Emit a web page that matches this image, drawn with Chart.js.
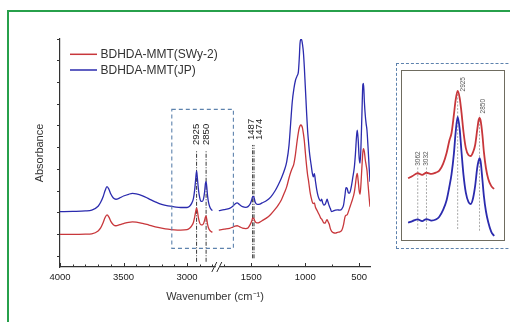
<!DOCTYPE html>
<html>
<head>
<meta charset="utf-8">
<script src="https://cdn.jsdelivr.net/npm/chart.js@4.4.1/dist/chart.umd.min.js"></script>
<style>
  html, body { margin: 0; padding: 0; background: #fff; overflow: hidden; }
  #frame { position: absolute; left: 7px; top: 10px; width: 600px; height: 400px; border: 2px solid #27a04b; }
  #main { position: absolute; left: 0; top: 0; }
  #insetOuter { position: absolute; left: 396px; top: 63px; width: 200px; height: 184px; border: 1.2px dashed #5d82ad; }
  #insetBox { position: absolute; left: 401px; top: 70px; width: 102px; height: 169px; border: 1.5px solid #6f6c60; background: #fff; }
  #inset { display: block; }
</style>
</head>
<body>
<div id="frame"></div>
<canvas id="main" width="510" height="322"></canvas>
<div id="insetOuter"></div>
<div id="insetBox"><canvas id="inset" width="102" height="169"></canvas></div>
<script>
// high wavenumber part (4000 - 2800 cm-1)
const waveHigh = [4000, 3900, 3800, 3750, 3700, 3680, 3660, 3645, 3630, 3615,
  3600, 3580, 3560, 3530, 3500, 3460, 3430, 3400, 3350, 3300,
  3250, 3200, 3150, 3100, 3050, 3000, 2980, 2965, 2950, 2940,
  2932, 2925, 2918, 2910, 2900, 2890, 2880, 2870, 2862, 2855,
  2850, 2845, 2838, 2830, 2820, 2810, 2800];
const swyHigh = [1.50, 1.50, 1.51, 1.53, 1.66, 1.80, 2.05, 2.28, 2.40, 2.30,
  2.10, 1.95, 1.90, 1.95, 2.00, 2.06, 2.08, 2.07, 2.01, 1.93,
  1.85, 1.79, 1.74, 1.71, 1.70, 1.72, 1.78, 1.88, 2.05, 2.30,
  2.55, 2.72, 2.55, 2.25, 2.02, 1.94, 1.94, 2.00, 2.15, 2.30,
  2.35, 2.20, 1.95, 1.78, 1.68, 1.63, 1.60];
const jpHigh = [2.55, 2.56, 2.58, 2.62, 2.80, 2.98, 3.25, 3.52, 3.70, 3.58,
  3.36, 3.18, 3.12, 3.18, 3.27, 3.35, 3.39, 3.37, 3.28, 3.14,
  3.00, 2.88, 2.81, 2.77, 2.74, 2.74, 2.80, 2.92, 3.15, 3.55,
  4.05, 4.42, 4.05, 3.55, 3.18, 3.02, 3.02, 3.15, 3.45, 3.85,
  3.93, 3.70, 3.25, 2.95, 2.75, 2.65, 2.60];

// low wavenumber part (1800 - 400 cm-1)
const waveLow = [1800, 1750, 1700, 1670, 1650, 1630, 1610, 1580, 1550, 1530,
  1510, 1495, 1487, 1480, 1474, 1465, 1455, 1440, 1420, 1400,
  1360, 1320, 1280, 1250, 1220, 1190, 1171, 1150, 1135, 1120,
  1105, 1090, 1075, 1063, 1055, 1048, 1040, 1032, 1025, 1017,
  1008, 1000, 993, 986, 978, 970, 962, 955, 945, 935,
  925, 915, 905, 893, 880, 865, 855, 847, 838, 828,
  816, 806, 797, 788, 778, 768, 755, 740, 720, 700,
  680, 660, 645, 632, 622, 612, 600, 590, 575, 560,
  545, 535, 525, 518, 510, 500, 492, 484, 475, 466,
  460, 452, 444, 436, 428, 418, 408, 400];
const swyLow = [1.70, 1.74, 1.78, 1.84, 1.88, 1.90, 1.86, 1.79, 1.77, 1.80,
  1.95, 2.12, 2.24, 2.25, 2.22, 2.10, 2.05, 2.03, 2.07, 2.13,
  2.25, 2.42, 2.65, 2.85, 3.10, 3.45, 3.70, 4.10, 4.35, 4.55,
  4.75, 5.20, 5.80, 6.20, 6.40, 6.50, 6.54, 6.50, 6.40, 6.15,
  5.80, 5.35, 4.95, 4.60, 4.25, 4.00, 3.70, 3.45, 3.20, 3.00,
  2.92, 2.95, 2.75, 2.63, 2.50, 2.35, 2.24, 2.20, 2.12, 2.03,
  2.02, 2.12, 2.18, 2.08, 1.98, 1.78, 1.64, 1.58, 1.56, 1.60,
  1.62, 1.70, 1.95, 2.30, 2.38, 2.40, 2.55, 2.70, 2.92, 3.15,
  3.45, 3.80, 4.20, 4.31, 4.00, 3.50, 3.35, 3.80, 4.60, 5.30,
  5.45, 5.30, 4.95, 4.70, 4.45, 3.80, 3.20, 2.78];
const jpLow = [2.60, 2.64, 2.70, 2.80, 2.90, 2.95, 2.88, 2.78, 2.75, 2.78,
  2.90, 3.10, 3.24, 3.25, 3.20, 3.02, 2.92, 2.88, 2.90, 2.95,
  3.05, 3.22, 3.50, 3.78, 4.10, 4.50, 4.85, 5.60, 6.60, 7.60,
  8.20, 8.60, 8.80, 9.00, 9.60, 10.30, 10.49, 10.45, 10.25, 9.90,
  9.20, 8.40, 7.70, 7.00, 6.30, 5.80, 5.35, 5.05, 4.70, 4.35,
  4.15, 4.30, 3.95, 3.55, 3.25, 3.08, 3.05, 3.12, 2.95, 2.85,
  2.88, 3.00, 3.12, 2.98, 2.82, 2.70, 2.55, 2.58, 2.62, 2.63,
  2.62, 2.68, 2.85, 3.30, 3.65, 3.62, 3.42, 3.40, 3.65, 4.10,
  4.60, 5.20, 6.00, 6.30, 5.90, 5.00, 4.78, 5.50, 7.00, 8.40,
  8.46, 7.60, 7.00, 6.60, 6.30, 5.50, 4.60, 3.93];

const seriesNames = ['BDHDA-MMT(SWy-2)', 'BDHDA-MMT(JP)'];
const seriesColors = ['#c8373b', '#2b2bae'];

const majorTicks = [4000, 3500, 3000, 1500, 1000, 500];
const minorTicks = [3900, 3800, 3700, 3600, 3400, 3300, 3200, 3100, 2900, 2800, 1750, 1250, 750];
const yTicks = [0.5, 1.5, 2.5, 3.5, 4.5, 5.5, 6.5, 7.5, 8.5, 9.5, 10.5];

// marked bands (dash-dot lines) in the main plot
const bandWaves = [2925, 2850, 1487, 1474];
const bandTop = [5.39, 5.39, 5.62, 5.62];
const bandBottom = [0.24, 0.24, 0.40, 0.40];

// dashed zoom region: wavenumber from, to, absorbance low, high
const zoomRegion = [3120, 1665, 0.86, 7.26];

// inset: zoom on 3100 - 2800 cm-1
const insetWave = [3095, 3080, 3062, 3047, 3032, 3015, 3000, 2988, 2975, 2963,
  2953, 2946, 2938, 2932, 2925, 2918, 2912, 2905, 2897, 2888,
  2880, 2872, 2865, 2858, 2853, 2850, 2846, 2840, 2835, 2828,
  2820, 2810, 2800];
const insetSwy = [3.65, 3.79, 3.95, 3.85, 3.98, 3.91, 3.99, 4.10, 4.50, 5.15,
  5.92, 6.33, 7.40, 8.28, 8.82, 8.40, 7.57, 6.39, 5.44, 5.03,
  4.97, 5.21, 5.62, 6.51, 7.10, 7.22, 7.04, 6.21, 5.21, 4.26,
  3.61, 3.20, 3.02];
const insetJp = [1.02, 1.12, 1.22, 1.12, 1.24, 1.15, 1.21, 1.38, 1.78, 2.35,
  3.20, 3.90, 5.10, 6.35, 7.28, 6.55, 5.25, 3.85, 2.80, 2.25,
  2.13, 2.49, 3.20, 4.26, 4.70, 4.85, 4.62, 3.55, 2.60, 1.70,
  1.05, 0.50, 0.24];
const insetBands = [3062, 3032, 2925, 2850];
const insetBandTop = [4.3, 4.3, 8.7, 7.4];
const insetBandBottom = [0.65, 0.65, 0.65, 0.55];

const FONT = '"Liberation Sans", Arial, sans-serif';
Chart.defaults.font.family = FONT;

// broken wavenumber axis: 4000-2750 full scale, 1800-400 compressed
const BREAK_HI = 2750, BREAK_LO = 1800, LOW_FACTOR = 0.85;
function pos(w) {
  return w >= BREAK_HI ? 4000 - w : (4000 - BREAK_HI) + (BREAK_LO - w) * LOW_FACTOR;
}

function spectrum(high, low) {
  const pts = waveHigh.map((w, i) => ({x: pos(w), y: high[i]}));
  pts.push({x: pos(BREAK_HI), y: null});
  waveLow.forEach((w, i) => pts.push({x: pos(w), y: low[i]}));
  return pts;
}

const datasets = [
  {label: seriesNames[0], data: spectrum(swyHigh, swyLow), borderColor: seriesColors[0], borderWidth: 1.3,
   pointRadius: 0, cubicInterpolationMode: 'monotone', spanGaps: false},
  {label: seriesNames[1], data: spectrum(jpHigh, jpLow), borderColor: seriesColors[1], borderWidth: 1.3,
   pointRadius: 0, cubicInterpolationMode: 'monotone', spanGaps: false}
];
bandWaves.forEach((w, i) => {
  datasets.push({label: '', data: [{x: pos(w), y: bandBottom[i]}, {x: pos(w), y: bandTop[i]}],
    borderColor: '#3a3a3a', borderWidth: 1, borderDash: [4, 1.5, 1, 1.5], pointRadius: 0, tension: 0});
});

const decorations = {
  id: 'decorations',
  afterDraw(chart) {
    const {ctx, chartArea, scales: {x, y}} = chart;
    ctx.save();
    // inward ticks on the wavenumber axis
    ctx.strokeStyle = '#333';
    ctx.lineWidth = 1;
    x.ticks.forEach(t => {
      const px = Math.round(x.getPixelForValue(t.value)) + 0.5;
      const len = t.label ? 4 : 2.5;
      ctx.beginPath();
      ctx.moveTo(px, chartArea.bottom);
      ctx.lineTo(px, chartArea.bottom - len);
      ctx.stroke();
    });
    // axis break mark
    const bx = x.getPixelForValue(pos(BREAK_HI));
    const by = chartArea.bottom;
    ctx.fillStyle = '#fff';
    ctx.fillRect(bx - 3, by - 2, 4, 4);
    ctx.strokeStyle = '#333';
    ctx.beginPath();
    ctx.moveTo(bx - 7, by + 5); ctx.lineTo(bx - 2, by - 5);
    ctx.moveTo(bx - 2, by + 5); ctx.lineTo(bx + 3, by - 5);
    ctx.stroke();

    // dashed zoom region
    const zx1 = x.getPixelForValue(pos(zoomRegion[0]));
    const zx2 = x.getPixelForValue(pos(zoomRegion[1]));
    const zy1 = y.getPixelForValue(zoomRegion[3]);
    const zy2 = y.getPixelForValue(zoomRegion[2]);
    ctx.strokeStyle = '#5d82ad';
    ctx.lineWidth = 1.1;
    ctx.setLineDash([4, 3]);
    ctx.strokeRect(zx1, zy1, zx2 - zx1, zy2 - zy1);
    ctx.setLineDash([]);

    // band labels
    const shift = [0, 0.5, -1, 5];
    ctx.fillStyle = '#222';
    ctx.font = '9.5px ' + FONT;
    ctx.textAlign = 'left';
    ctx.textBaseline = 'middle';
    bandWaves.forEach((w, i) => {
      const px = x.getPixelForValue(pos(w)) + shift[i];
      const py = y.getPixelForValue(bandTop[i]) - 5;
      ctx.save();
      ctx.translate(px, py);
      ctx.rotate(-Math.PI / 2);
      ctx.fillText(String(w), 0, 0);
      ctx.restore();
    });

    // legend
    ctx.font = '12px ' + FONT;
    ctx.textBaseline = 'middle';
    for (let i = 0; i < 2; i++) {
      const ly = chartArea.top + 15.3 + i * 15.7;
      const lx = chartArea.left + 10;
      ctx.strokeStyle = chart.data.datasets[i].borderColor;
      ctx.lineWidth = 1.5;
      ctx.beginPath();
      ctx.moveTo(lx, ly); ctx.lineTo(lx + 27, ly);
      ctx.stroke();
      ctx.fillStyle = '#333';
      ctx.fillText(chart.data.datasets[i].label, lx + 30.5, ly + 0.5);
    }
    ctx.restore();
  }
};

new Chart(document.getElementById('main'), {
  type: 'line',
  data: {datasets: datasets},
  options: {
    responsive: false,
    animation: false,
    devicePixelRatio: 1,
    layout: {padding: {left: 33, top: 39, right: 140, bottom: 18}},
    plugins: {legend: {display: false}, tooltip: {enabled: false}},
    scales: {
      x: {
        type: 'linear',
        min: 0,
        max: pos(400),
        afterBuildTicks: s => {
          s.ticks = majorTicks.concat(minorTicks).sort((a, b) => b - a).map(w => ({value: pos(w)}));
        },
        ticks: {
          autoSkip: false, maxRotation: 0, padding: 5, color: '#222',
          font: {size: 9.5},
          callback: v => {
            const w = majorTicks.find(m => Math.abs(pos(m) - v) < 0.01);
            return w === undefined ? '' : String(w);
          }
        },
        grid: {display: false, drawTicks: false},
        border: {display: true, color: '#333', width: 1.2},
        title: {display: true, text: 'Wavenumber (cm\u207B\u00B9)', color: '#333', font: {size: 11}, padding: 0},
        afterFit: s => { s.height = 37; }
      },
      y: {
        min: 0,
        max: 10.5,
        afterBuildTicks: s => { s.ticks = yTicks.map(v => ({value: v})); },
        ticks: {display: false},
        grid: {display: true, drawOnChartArea: false, drawTicks: true, tickLength: 3, color: '#333', tickColor: '#333'},
        border: {display: true, color: '#333', width: 1.2},
        title: {display: true, text: 'Absorbance', color: '#333', font: {size: 11}, padding: 0},
        afterFit: s => { s.width = 27; }
      }
    }
  },
  plugins: [decorations]
});

// inset chart
const insetDatasets = [
  {data: insetWave.map((w, i) => ({x: w, y: insetSwy[i]})), borderColor: seriesColors[0], borderWidth: 1.8,
   pointRadius: 0, cubicInterpolationMode: 'monotone'},
  {data: insetWave.map((w, i) => ({x: w, y: insetJp[i]})), borderColor: seriesColors[1], borderWidth: 1.8,
   pointRadius: 0, cubicInterpolationMode: 'monotone'}
];
insetBands.forEach((w, i) => {
  insetDatasets.push({data: [{x: w, y: insetBandBottom[i]}, {x: w, y: insetBandTop[i]}],
    borderColor: '#a9a9a9', borderWidth: 1, borderDash: [2, 1.5], pointRadius: 0, tension: 0});
});

const insetLabels = {
  id: 'insetLabels',
  afterDraw(chart) {
    const {ctx, scales: {x, y}} = chart;
    const shift = [0, 0, 6, 4];
    ctx.save();
    ctx.fillStyle = '#555';
    ctx.font = '6.5px ' + FONT;
    ctx.textAlign = 'left';
    ctx.textBaseline = 'middle';
    insetBands.forEach((w, i) => {
      ctx.save();
      ctx.translate(x.getPixelForValue(w) + shift[i], y.getPixelForValue(insetBandTop[i]) - 1.5);
      ctx.rotate(-Math.PI / 2);
      ctx.fillText(String(w), 0, 0);
      ctx.restore();
    });
    ctx.restore();
  }
};

new Chart(document.getElementById('inset'), {
  type: 'line',
  data: {datasets: insetDatasets},
  options: {
    responsive: false,
    animation: false,
    devicePixelRatio: 1,
    layout: {padding: 0},
    plugins: {legend: {display: false}, tooltip: {enabled: false}},
    scales: {
      x: {type: 'linear', display: false, min: 2766, max: 3116, reverse: true},
      y: {display: false, min: 0, max: 10}
    }
  },
  plugins: [insetLabels]
});
</script>
</body>
</html>
